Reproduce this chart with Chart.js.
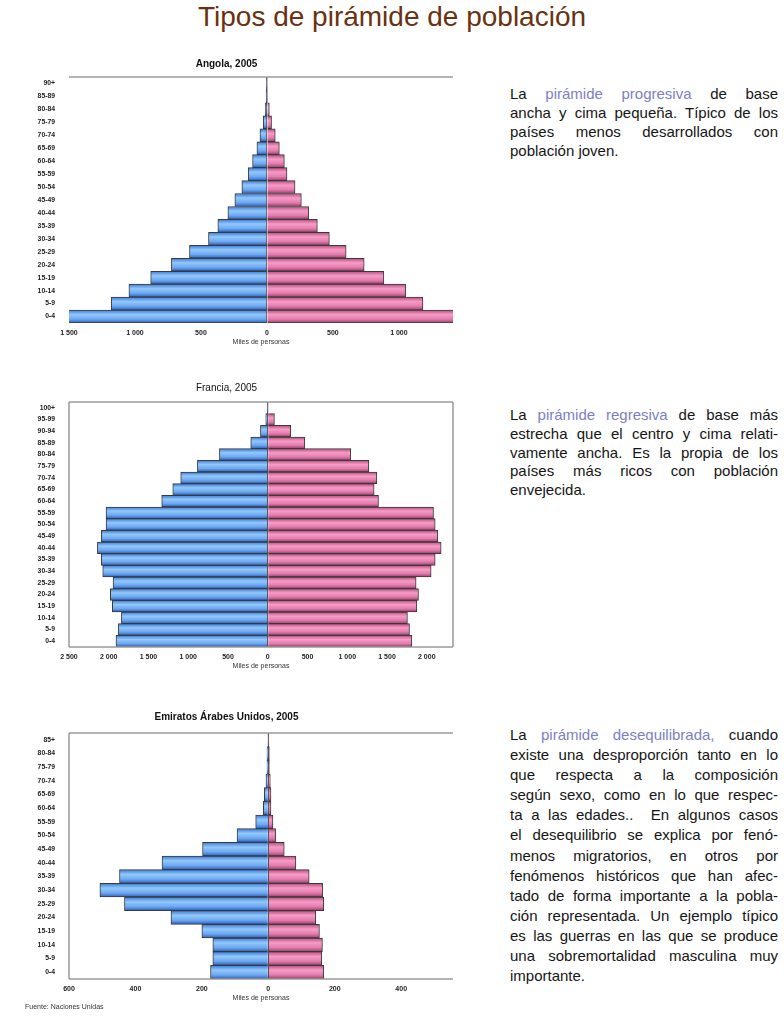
<!DOCTYPE html>
<html>
<head>
<meta charset="utf-8">
<script src="https://cdn.jsdelivr.net/npm/chart.js@4"></script>
<style>
  body { margin: 0; background: #fff; font-family: "Liberation Sans", Arial, sans-serif; }
  #page { position: relative; width: 784px; height: 1024px; overflow: hidden; }
  h1 { position: absolute; top: 0; left: 0; width: 784px; margin: 0; text-align: center;
       font-weight: normal; font-size: 28px; line-height: 34px; color: #6a3210; }
  .box { position: absolute; left: 0; width: 470px; }
  .txt { position: absolute; left: 510px; width: 268px; font-size: 15px; color: #151515; }
  .txt div { text-align: justify; text-align-last: justify; white-space: nowrap; }
  .txt div.end { text-align-last: left; }
  .hl { color: #7c80c6; }
  #fuente { position: absolute; left: 25px; top: 1003px; font-size: 7px; color: #333; }
</style>
</head>
<body>
<div id="page">
  <h1>Tipos de pirámide de población</h1>

  <div class="box" style="top:50px;height:299px"><canvas id="js--chart--1"></canvas></div>
  <div class="box" style="top:375px;height:298px"><canvas id="js--chart--2"></canvas></div>
  <div class="box" style="top:706px;height:299px"><canvas id="js--chart--3"></canvas></div>

  <div class="txt" style="top:84px;line-height:19px">
    <div>La <span class="hl">pirámide progresiva</span> de base</div>
    <div>ancha y cima pequeña. Típico de los</div>
    <div>países menos desarrollados con</div>
    <div class="end">población joven.</div>
  </div>

  <div class="txt" style="top:406px;line-height:18.8px">
    <div>La <span class="hl">pirámide regresiva</span> de base más</div>
    <div>estrecha que el centro y cima relati-</div>
    <div>vamente ancha. Es la propia de los</div>
    <div>países más ricos con población</div>
    <div class="end">envejecida.</div>
  </div>

  <div class="txt" style="top:725px;line-height:20.1px">
    <div>La <span class="hl">pirámide desequilibrada,</span> cuando</div>
    <div>existe una desproporción tanto en lo</div>
    <div>que respecta a la composición</div>
    <div>según sexo, como en lo que respec-</div>
    <div>ta a las edades..&nbsp; En algunos casos</div>
    <div>el desequilibrio se explica por fenó-</div>
    <div>menos migratorios, en otros por</div>
    <div>fenómenos históricos que han afec-</div>
    <div>tado de forma importante a la pobla-</div>
    <div>ción representada. Un ejemplo típico</div>
    <div>es las guerras en las que se produce</div>
    <div>una sobremortalidad masculina muy</div>
    <div class="end">importante.</div>
  </div>

  <div id="fuente">Fuente: Naciones Unidas</div>
</div>

<script>
// edades de arriba (mayores) hacia abajo (0-4), miles de personas
const edadesAngola = ['90+', '85-89', '80-84', '75-79', '70-74', '65-69', '60-64', '55-59', '50-54', '45-49',
    '40-44', '35-39', '30-34', '25-29', '20-24', '15-19', '10-14', '5-9', '0-4'];
const hombresAngola = [1, 6, 13, 28, 53, 76, 109, 142, 190, 243, 296, 372, 443, 587, 724, 881, 1046, 1180, 1505];
const mujeresAngola = [1, 6, 18, 35, 63, 94, 132, 152, 213, 261, 316, 382, 473, 600, 737, 886, 1051, 1182, 1430];
const ticksAngola = [-1500, -1000, -500, 0, 500, 1000];

const edadesFrancia = ['100+', '95-99', '90-94', '85-89', '80-84', '75-79', '70-74', '65-69', '60-64', '55-59',
    '50-54', '45-49', '40-44', '35-39', '30-34', '25-29', '20-24', '15-19', '10-14', '5-9', '0-4'];
const hombresFrancia = [3, 25, 92, 214, 608, 885, 1095, 1195, 1334, 2034, 2034, 2093, 2143, 2093, 2076, 1946, 1980, 1955, 1841, 1879, 1909];
const mujeresFrancia = [6, 84, 289, 466, 1044, 1271, 1372, 1338, 1393, 2085, 2106, 2139, 2181, 2106, 2055, 1866, 1896, 1875, 1757, 1783, 1812];
const ticksFrancia = [-2500, -2000, -1500, -1000, -500, 0, 500, 1000, 1500, 2000];

const edadesEmiratos = ['85+', '80-84', '75-79', '70-74', '65-69', '60-64', '55-59', '50-54', '45-49',
    '40-44', '35-39', '30-34', '25-29', '20-24', '15-19', '10-14', '5-9', '0-4'];
const hombresEmiratos = [1, 4, 4, 7, 12, 15, 38, 94, 198, 320, 448, 507, 433, 293, 200, 167, 167, 174];
const mujeresEmiratos = [1, 3, 3, 6, 8, 8, 14, 22, 48, 83, 123, 164, 167, 143, 154, 163, 161, 167];
const ticksEmiratos = [-600, -400, -200, 0, 200, 400];

const azul = ['#3b7bd6', '#92c8fb', '#6ea8ef', '#2a5fc2'];
const rosa = ['#b44f7e', '#f89bc7', '#e27dae', '#9b3d6a'];

function degradado(c, col) {
    const chart = c.chart;
    const y = chart.scales.y;
    if (!chart.chartArea || !y || c.dataIndex === undefined) return col[1];
    const n = chart.data.labels.length;
    const h = chart.chartArea.height / n;
    const mid = y.getPixelForValue(c.dataIndex);
    const g = chart.ctx.createLinearGradient(0, mid - h / 2, 0, mid + h / 2);
    g.addColorStop(0, col[0]);
    g.addColorStop(0.35, col[1]);
    g.addColorStop(0.7, col[2]);
    g.addColorStop(1, col[3]);
    return g;
}

// lineas del borde del area de dibujo
const marco = {
    id: 'marco',
    afterDraw(chart, args, opts) {
        const a = chart.chartArea, ctx = chart.ctx;
        ctx.save();
        ctx.strokeStyle = '#9a9a9a';
        ctx.lineWidth = 1.5;
        ctx.beginPath();
        if (opts.top) { ctx.moveTo(a.left, a.top); ctx.lineTo(a.right, a.top); }
        if (opts.bottom) { ctx.moveTo(a.left, a.bottom); ctx.lineTo(a.right, a.bottom); }
        if (opts.left) { ctx.moveTo(a.left, a.top); ctx.lineTo(a.left, a.bottom); }
        if (opts.right) { ctx.moveTo(a.right, a.top); ctx.lineTo(a.right, a.bottom); }
        ctx.stroke();
        ctx.restore();
    }
};

function miles(v) {
    return String(Math.abs(v)).replace(/\B(?=(\d{3})+(?!\d))/g, ' ');
}

function piramide(id, titulo, peso, pad, edades, hombres, mujeres, min, max, marcas, lados) {
    new Chart(document.getElementById(id), {
        type: 'bar',
        data: {
            labels: edades,
            datasets: [{
                label: 'Hombres',
                data: hombres.map(v => -v),
                backgroundColor: c => degradado(c, azul),
                borderColor: '#3a3a3a',
                borderWidth: 1
            }, {
                label: 'Mujeres',
                data: mujeres,
                backgroundColor: c => degradado(c, rosa),
                borderColor: '#3a3a3a',
                borderWidth: 1
            }]
        },
        options: {
            indexAxis: 'y',
            responsive: true,
            maintainAspectRatio: false,
            animation: false,
            layout: { padding: { left: 0, right: 17, top: 0, bottom: 0 } },
            datasets: { bar: { barPercentage: 1, categoryPercentage: 1 } },
            plugins: {
                legend: { display: false },
                tooltip: { enabled: false },
                title: {
                    display: true,
                    text: titulo,
                    color: '#111',
                    font: { family: 'Liberation Sans', size: 10, weight: peso, lineHeight: 1.2 },
                    padding: pad
                },
                marco: lados
            },
            scales: {
                x: {
                    stacked: true,
                    min: min,
                    max: max,
                    border: { display: false },
                    grid: {
                        drawTicks: false,
                        color: c => (c.tick && c.tick.value === 0) ? '#4a4a4a' : 'rgba(0,0,0,0)',
                        lineWidth: 1
                    },
                    afterBuildTicks: s => { s.ticks = marcas.map(v => ({ value: v })); },
                    ticks: {
                        padding: 6,
                        color: '#222',
                        font: { family: 'Liberation Sans', size: 7, weight: 'bold' },
                        callback: v => miles(v)
                    },
                    title: {
                        display: true,
                        text: 'Miles de personas',
                        color: '#333',
                        padding: { top: 0, bottom: 3 },
                        font: { family: 'Liberation Sans', size: 7, lineHeight: 1.2 }
                    },
                    afterFit: s => { s.height = 26; }
                },
                y: {
                    stacked: true,
                    border: { display: false },
                    grid: { display: false },
                    ticks: {
                        autoSkip: false,
                        padding: 6,
                        color: '#222',
                        font: { family: 'Liberation Sans', size: 6.8, weight: 'bold' }
                    },
                    afterFit: s => { s.width = 69; }
                }
            }
        },
        plugins: [marco]
    });
}

piramide('js--chart--1', 'Angola, 2005', 'bold', { top: 8, bottom: 7 },
    edadesAngola, hombresAngola, mujeresAngola, -1500, 1410, ticksAngola,
    { top: true, bottom: false, left: false, right: false });

piramide('js--chart--2', 'Francia, 2005', 'normal', { top: 7, bottom: 8 },
    edadesFrancia, hombresFrancia, mujeresFrancia, -2500, 2330, ticksFrancia,
    { top: true, bottom: true, left: true, right: true });

piramide('js--chart--3', 'Emiratos Árabes Unidos, 2005', 'bold', { top: 5, bottom: 10 },
    edadesEmiratos, hombresEmiratos, mujeresEmiratos, -600, 556, ticksEmiratos,
    { top: true, bottom: true, left: true, right: false });
</script>
</body>
</html>
